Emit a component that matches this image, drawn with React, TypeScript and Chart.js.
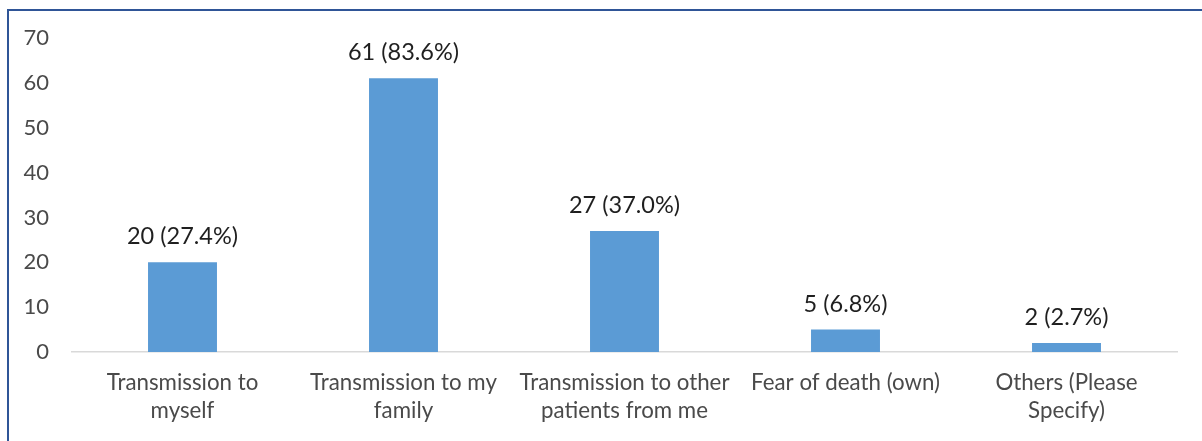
import React, { useEffect, useRef } from "react";
import { Chart, registerables } from "chart.js";

Chart.register(...registerables);

const categories: string[][] = [
  ["Transmission to", "myself"],
  ["Transmission to my", "family"],
  ["Transmission to other", "patients from me"],
  ["Fear of death (own)"],
  ["Others (Please", "Specify)"],
];
const counts: number[] = [20, 61, 27, 5, 2];
const percents: string[] = ["27.4%", "83.6%", "37.0%", "6.8%", "2.7%"];
const yTicks = { min: 0, max: 70, step: 10 };

const FONT = "Lato, 'Open Sans', sans-serif";

const dataLabelPlugin = {
  id: "dataLabels",
  afterDatasetsDraw(chart: any) {
    const ctx = chart.ctx;
    const meta = chart.getDatasetMeta(0);
    ctx.save();
    ctx.font = `23.5px ${FONT}`;
    ctx.fillStyle = "#1f1f1f";
    ctx.textAlign = "center";
    ctx.textBaseline = "alphabetic";
    meta.data.forEach((bar: any, i: number) => {
      ctx.fillText(`${counts[i]} (${percents[i]})`, bar.x, bar.y - 18);
    });
    ctx.restore();
  },
};

export default function App() {
  const ref = useRef<HTMLCanvasElement>(null);
  useEffect(() => {
    if (!ref.current) return;
    const chart = new Chart(ref.current, {
      type: "bar",
      data: {
        labels: categories,
        datasets: [
          {
            data: counts,
            backgroundColor: "#5B9BD5",
            categoryPercentage: 1,
            barPercentage: 0.312,
          },
        ],
      },
      options: {
        responsive: false,
        animation: false,
        layout: { padding: { top: 38, right: 25, bottom: 0, left: 0 } },
        plugins: { legend: { display: false }, tooltip: { enabled: false } },
        scales: {
          x: {
            grid: { display: false, drawTicks: false },
            border: { display: true, color: "#D9D9D9", width: 1.5 },
            ticks: {
              color: "#4a4a4a",
              font: { family: FONT, size: 22.3, lineHeight: 1.26 },
              padding: 17,
              maxRotation: 0,
              autoSkip: false,
            },
            afterFit(scale: any) {
              scale.height = 89;
            },
          },
          y: {
            min: yTicks.min,
            max: yTicks.max,
            grid: { display: false, drawTicks: false },
            border: { display: false },
            ticks: {
              stepSize: yTicks.step,
              color: "#4a4a4a",
              font: { family: FONT, size: 22 },
              padding: 23,
            },
            afterFit(scale: any) {
              scale.width = 72;
            },
          },
        },
      },
      plugins: [dataLabelPlugin],
    });
    return () => chart.destroy();
  }, []);

  return (
    <div style={{ position: "absolute", left: 0, top: 0, width: 1202, height: 441, background: "#fff" }}>
      <canvas ref={ref} width={1202} height={441} style={{ position: "absolute", left: 0, top: 0 }} />
      <div style={{ position: "absolute", left: 7, top: 9, width: 1195, height: 2, background: "#2F5597" }} />
      <div style={{ position: "absolute", left: 7, top: 9, width: 2, height: 432, background: "#2F5597" }} />
    </div>
  );
}
